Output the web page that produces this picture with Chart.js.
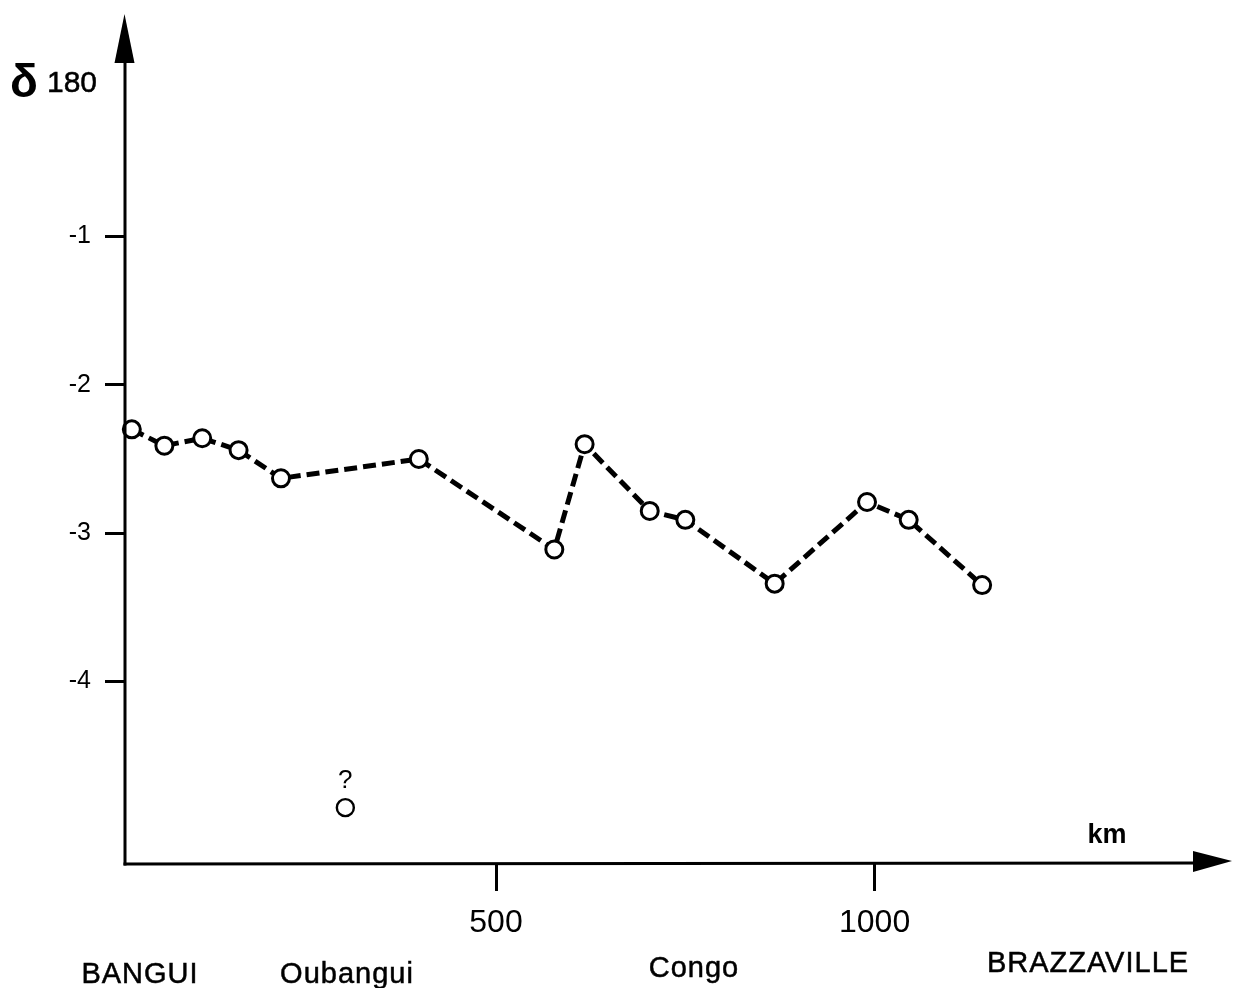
<!DOCTYPE html>
<html>
<head>
<meta charset="utf-8">
<script src="https://cdn.jsdelivr.net/npm/chart.js@4.4.1/dist/chart.umd.min.js"></script>
<style>
html,body{margin:0;padding:0;background:#fff;}
canvas{display:block;}
</style>
</head>
<body>
<canvas id="c" width="1233" height="988"></canvas>
<script>
// Distance along the river (km) and δ18O values
const distanceKm = [19, 62, 112, 160, 216, 398, 577, 617, 703, 750, 868, 990, 1045, 1142];
const delta18O   = [-2.30, -2.41, -2.36, -2.44, -2.63, -2.50, -3.11, -2.40, -2.85, -2.91, -3.34, -2.79, -2.91, -3.35];
// Doubtful isolated sample
const doubtfulKm = [301];
const doubtfulDelta = [-4.85];
const doubtfulMark = "?";
// Axis ticks
const xTicks = [500, 1000];
const yTicks = [-1, -2, -3, -4];
const yTitle = ["δ", "180"];
const xTitle = "km";
// Place names along the bottom
const placeNames = ["BANGUI", "Oubangui", "Congo", "BRAZZAVILLE"];

// layout for place names (pixel anchors)
const placeLayout = [
  {x: 140, y: 983}, {x: 347, y: 983}, {x: 694, y: 977}, {x: 1088, y: 972}
];

const FONT = '"Liberation Sans", Arial, Helvetica, sans-serif';

const mainData = distanceKm.map((x, i) => ({x, y: delta18O[i]}));
const doubtData = doubtfulKm.map((x, i) => ({x, y: doubtfulDelta[i]}));

function heavyText(ctx, t, x, y, w) {
  ctx.fillText(t, x, y);
  ctx.lineWidth = w;
  ctx.strokeText(t, x, y);
}

const decor = {
  id: 'decor',
  afterDraw(chart) {
    const ctx = chart.ctx;
    const a = chart.chartArea;
    ctx.save();
    ctx.strokeStyle = '#000';
    ctx.fillStyle = '#000';
    ctx.lineWidth = 3;
    ctx.lineCap = 'butt';
    // y axis
    ctx.beginPath();
    ctx.moveTo(a.left, a.bottom + 1.5);
    ctx.lineTo(a.left, a.top + 40);
    ctx.stroke();
    ctx.beginPath();
    ctx.moveTo(a.left - 0.5, a.top);
    ctx.lineTo(a.left - 10.5, a.top + 49);
    ctx.lineTo(a.left + 9.5, a.top + 49);
    ctx.closePath();
    ctx.fill();
    // x axis
    ctx.beginPath();
    ctx.moveTo(a.left - 1.5, a.bottom);
    ctx.lineTo(a.right - 30, a.bottom - 1);
    ctx.stroke();
    ctx.beginPath();
    ctx.moveTo(a.right, a.bottom - 3);
    ctx.lineTo(a.right - 39, a.bottom - 13);
    ctx.lineTo(a.right - 39, a.bottom + 8);
    ctx.closePath();
    ctx.fill();

    // y title
    ctx.textAlign = 'left';
    ctx.textBaseline = 'alphabetic';
    ctx.font = 'bold 46px ' + FONT;
    ctx.fillText(yTitle[0], 10, 97);
    ctx.font = '30px ' + FONT;
    heavyText(ctx, yTitle[1], 47, 92, 0.5);

    // x title
    ctx.textAlign = 'center';
    ctx.font = 'bold 27px ' + FONT;
    ctx.fillText(xTitle, 1107, 843);

    // doubtful mark above isolated point
    const xs = chart.scales.x, ys = chart.scales.y;
    ctx.font = '26px ' + FONT;
    doubtData.forEach(p => {
      ctx.fillText(doubtfulMark, xs.getPixelForValue(p.x), ys.getPixelForValue(p.y) - 20);
    });

    // place names
    ctx.font = '29px ' + FONT;
    if ('letterSpacing' in ctx) ctx.letterSpacing = '1px';
    placeNames.forEach((n, i) => {
      heavyText(ctx, n, placeLayout[i].x, placeLayout[i].y, 0.5);
    });
    ctx.restore();
  }
};

function noPad(s) {
  s.paddingTop = 0; s.paddingBottom = 0; s.paddingLeft = 0; s.paddingRight = 0;
}

new Chart(document.getElementById('c'), {
  type: 'line',
  data: {
    datasets: [
      {
        data: mainData,
        borderColor: '#000',
        borderWidth: 5,
        borderDash: [13, 6],
        pointRadius: 8.5,
        pointBorderWidth: 3,
        pointBackgroundColor: '#fff',
        pointBorderColor: '#000',
        tension: 0,
        fill: false,
        clip: false
      },
      {
        data: doubtData,
        showLine: false,
        pointRadius: 8.5,
        pointBorderWidth: 2.4,
        pointBackgroundColor: '#fff',
        pointBorderColor: '#000',
        clip: false
      }
    ]
  },
  options: {
    responsive: false,
    animation: false,
    devicePixelRatio: 1,
    layout: {autoPadding: false, padding: {top: 14, right: 1, left: 0, bottom: 0}},
    plugins: {legend: {display: false}, tooltip: {enabled: false}},
    scales: {
      x: {
        type: 'linear',
        min: 10, max: 1472,
        afterFit(s) { s.height = 124; noPad(s); },
        afterBuildTicks(s) { s.ticks = xTicks.map(v => ({value: v})); },
        border: {display: false},
        grid: {display: true, drawOnChartArea: false, drawTicks: true, tickLength: 27, color: '#000', lineWidth: 3},
        ticks: {color: '#000', font: {family: FONT, size: 32}, padding: 13, maxRotation: 0, autoSkip: false,
          callback: v => String(v)}
      },
      y: {
        type: 'linear',
        min: -5.23, max: 0.5,
        afterFit(s) { s.width = 125; noPad(s); },
        afterBuildTicks(s) { s.ticks = yTicks.map(v => ({value: v})); },
        border: {display: false},
        grid: {display: true, drawOnChartArea: false, drawTicks: true, tickLength: 20, color: '#000', lineWidth: 3},
        ticks: {color: '#000', font: {family: FONT, size: 25}, padding: 14, autoSkip: false,
          callback: v => String(v)}
      }
    }
  },
  plugins: [decor]
});
</script>
</body>
</html>
